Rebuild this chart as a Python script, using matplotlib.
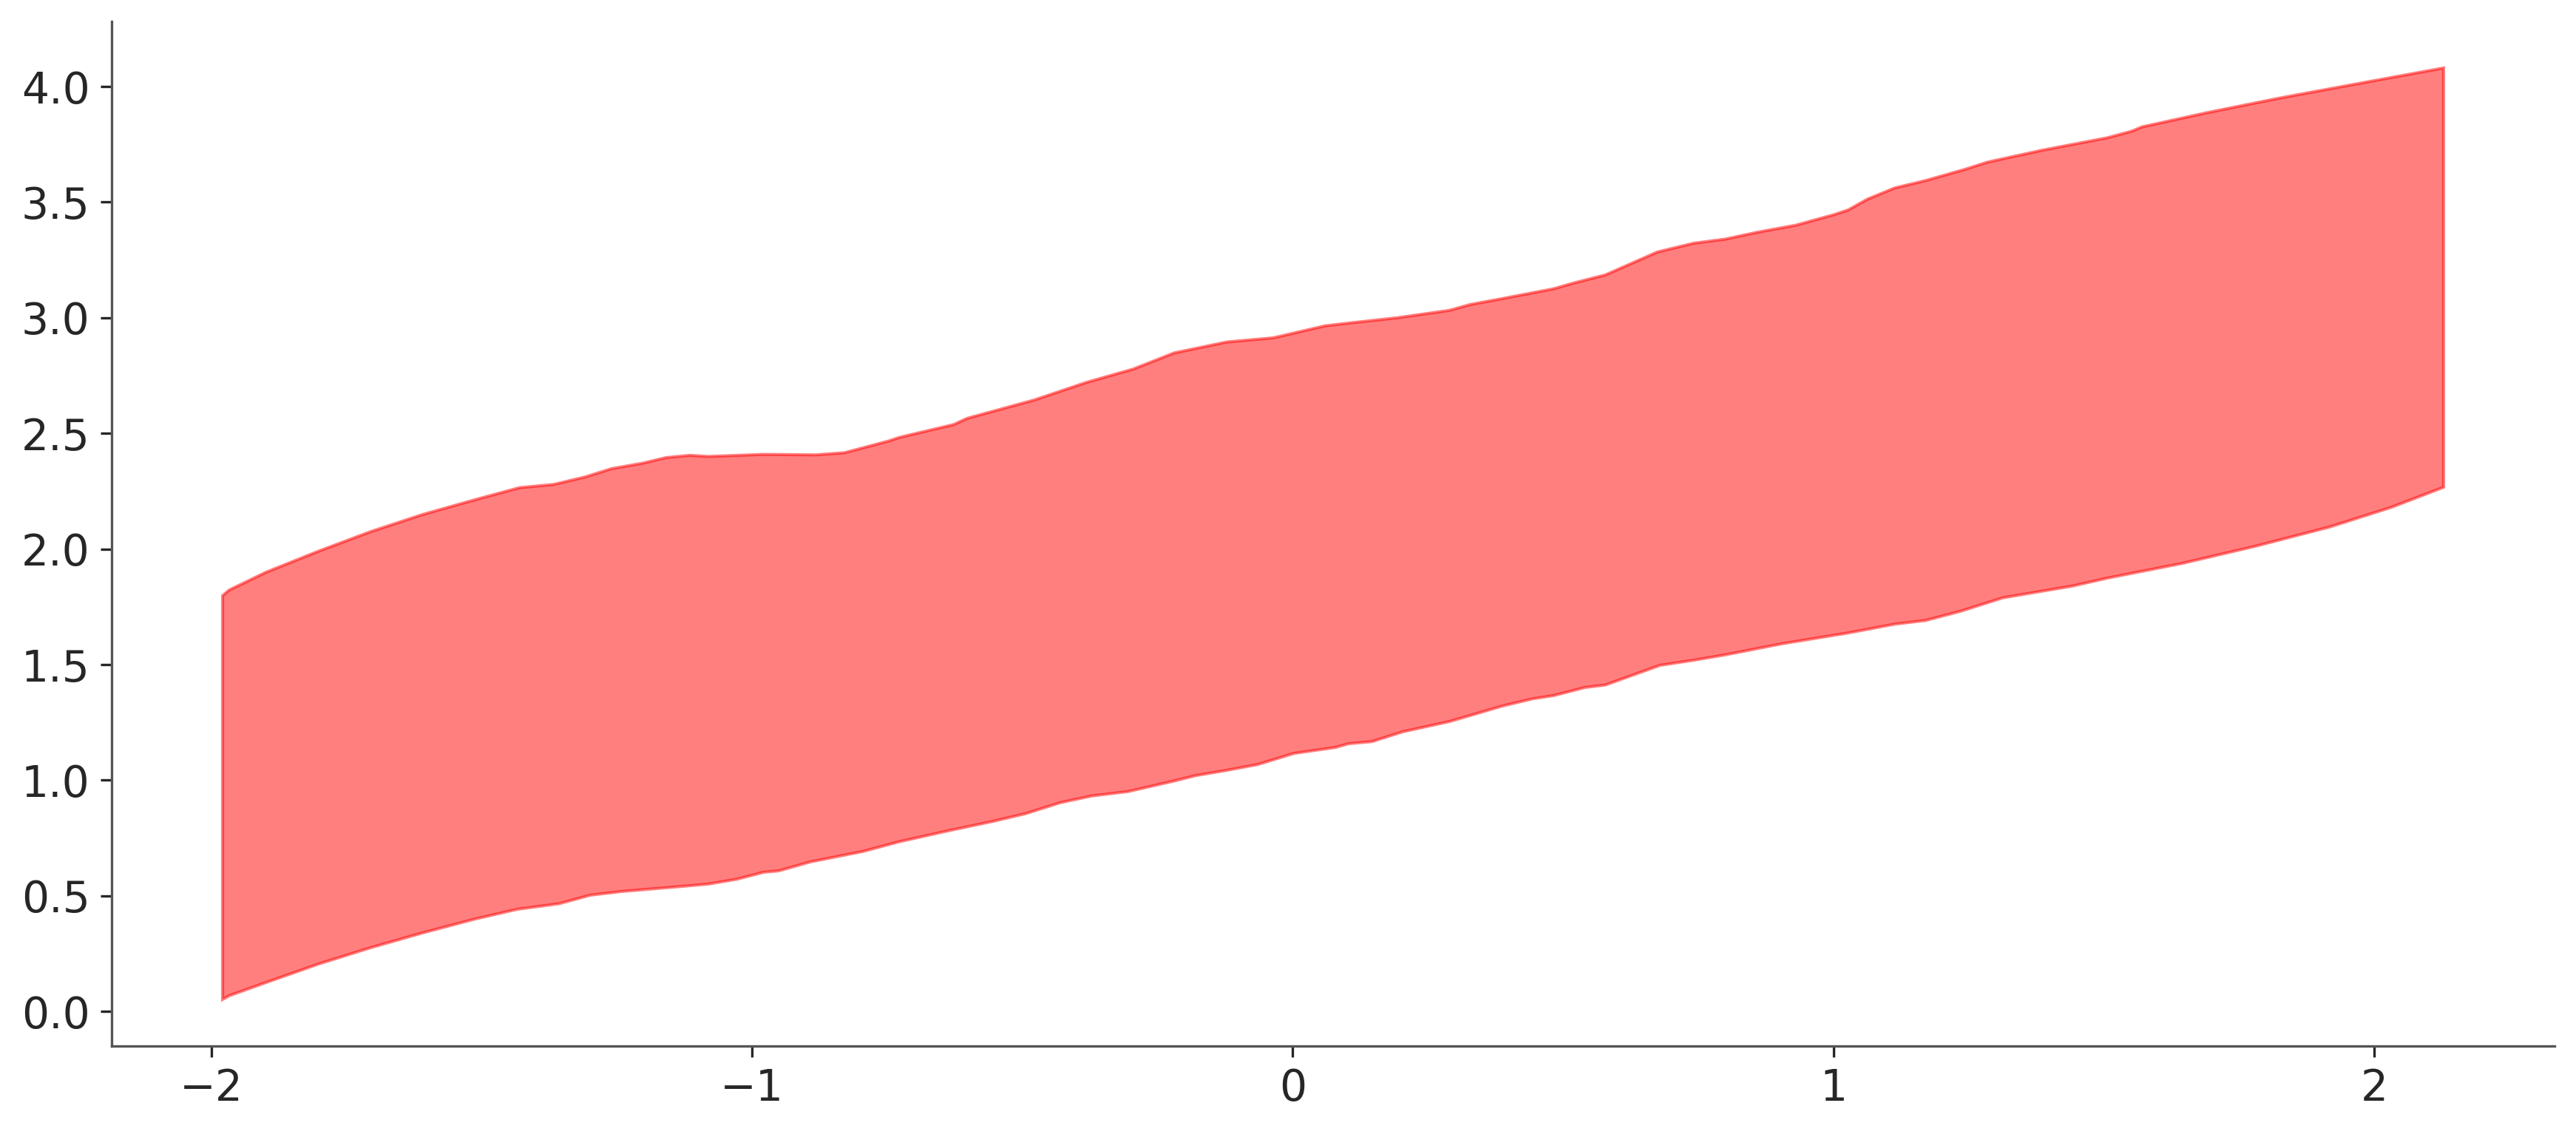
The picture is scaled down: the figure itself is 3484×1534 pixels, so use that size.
import numpy as np
import matplotlib
matplotlib.use("Agg")
import matplotlib.pyplot as plt

# upper edge of the band
x_upper = [-1.979, -1.967, -1.899, -1.802, -1.705, -1.609, -1.512, -1.430, -1.367,
           -1.309, -1.260, -1.202, -1.159, -1.115, -1.081, -0.979, -0.882, -0.829,
           -0.747, -0.728, -0.627, -0.602, -0.544, -0.477, -0.382, -0.295, -0.219,
           -0.122, -0.036, 0.060, 0.108, 0.194, 0.290, 0.328, 0.386, 0.482, 0.521,
           0.578, 0.674, 0.741, 0.800, 0.860, 0.930, 1.000, 1.027, 1.063, 1.113,
           1.170, 1.242, 1.285, 1.385, 1.506, 1.552, 1.570, 1.689, 1.825, 1.962,
           2.053, 2.128]
y_upper = [1.798, 1.822, 1.899, 1.990, 2.075, 2.149, 2.213, 2.265, 2.279,
           2.311, 2.347, 2.371, 2.395, 2.405, 2.400, 2.409, 2.407, 2.416,
           2.467, 2.482, 2.538, 2.565, 2.602, 2.645, 2.720, 2.778, 2.848,
           2.895, 2.913, 2.965, 2.978, 3.000, 3.032, 3.057, 3.082, 3.125, 3.151,
           3.185, 3.284, 3.322, 3.340, 3.370, 3.400, 3.445, 3.466, 3.513, 3.561,
           3.593, 3.641, 3.673, 3.724, 3.778, 3.807, 3.825, 3.886, 3.950, 4.009,
           4.048, 4.080]

# lower edge of the band
x_lower = [-1.979, -1.967, -1.899, -1.802, -1.705, -1.609, -1.512, -1.434, -1.357,
           -1.299, -1.241, -1.124, -1.081, -1.028, -0.979, -0.951, -0.892, -0.795,
           -0.728, -0.640, -0.553, -0.495, -0.430, -0.372, -0.305, -0.219, -0.180,
           -0.122, -0.065, 0.002, 0.079, 0.103, 0.146, 0.204, 0.290, 0.386, 0.443,
           0.482, 0.540, 0.578, 0.679, 0.741, 0.799, 0.904, 1.027, 1.113, 1.170,
           1.235, 1.313, 1.442, 1.506, 1.643, 1.780, 1.917, 2.031, 2.128]
y_lower = [0.052, 0.068, 0.125, 0.205, 0.276, 0.340, 0.400, 0.442, 0.466,
           0.503, 0.519, 0.542, 0.551, 0.572, 0.602, 0.608, 0.647, 0.692,
           0.734, 0.780, 0.823, 0.855, 0.903, 0.932, 0.951, 0.997, 1.020,
           1.043, 1.068, 1.116, 1.142, 1.158, 1.167, 1.210, 1.254, 1.320, 1.352,
           1.366, 1.401, 1.412, 1.497, 1.519, 1.542, 1.590, 1.637, 1.675, 1.691,
           1.731, 1.789, 1.840, 1.874, 1.937, 2.012, 2.095, 2.180, 2.267]

x_ticks = [-2, -1, 0, 1, 2]
y_ticks = [0.0, 0.5, 1.0, 1.5, 2.0, 2.5, 3.0, 3.5, 4.0]

fig = plt.figure(figsize=(3484 / 300, 1534 / 300), dpi=300)
ax = fig.add_axes([0.0433, 0.0776, 0.9484, 0.9035])

# band outline: upper edge left->right, then lower edge back
poly_x = np.concatenate([x_upper, x_lower[::-1]])
poly_y = np.concatenate([y_upper, y_lower[::-1]])
ax.fill(poly_x, poly_y, color="red", alpha=0.5, linewidth=1.0)

ax.set_xticks(x_ticks)
ax.set_yticks(y_ticks)
ax.set_xticklabels(["\u2212" + str(abs(t)) if t < 0 else str(t) for t in x_ticks])
ax.set_yticklabels([f"{t:.1f}" for t in y_ticks])

for side in ["top", "right"]:
    ax.spines[side].set_visible(False)
for side in ["left", "bottom"]:
    ax.spines[side].set_color("#555555")
    ax.spines[side].set_linewidth(0.8)
ax.tick_params(labelsize=14, colors="#262626", length=3.5, width=0.8)

fig.savefig("out.png", dpi=300)
